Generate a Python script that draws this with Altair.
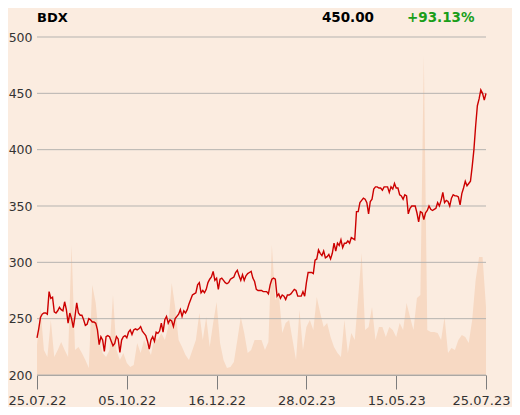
import altair as alt
import pandas as pd

ticker = "BDX"
tick_idx = [0, 52, 104, 156, 208, 260]
tick_labels = ["25.07.22", "05.10.22", "16.12.22", "28.02.23", "15.05.23", "25.07.23"]
y_ticks = [200, 250, 300, 350, 400, 450, 500]

close = [
    233, 241, 251, 254, 255, 255, 254, 274, 268, 269,
    256, 255, 257, 260, 258, 257, 265, 258, 246, 255,
    250, 242, 252, 264, 255, 253, 253, 249, 244, 245,
    250, 249, 247, 247, 246, 240, 227, 234, 231, 221,
    234, 235, 234, 230, 226, 228, 234, 232, 220, 231,
    234, 235, 233, 238, 240, 236, 240, 241, 240, 241,
    243, 239, 237, 235, 230, 223, 231, 234, 230, 238,
    237, 239, 246, 238, 249, 252, 246, 249, 248, 243,
    250, 252, 254, 258, 252, 257, 255, 258, 263, 267,
    271, 272, 273, 280, 282, 273, 275, 273, 276, 282,
    285, 287, 292, 284, 286, 276, 285, 286, 284, 282,
    281, 282, 285, 286, 287, 291, 293, 288, 284, 289,
    284, 288, 290, 291, 292, 286, 283, 276, 275, 275,
    275, 274, 274, 274, 272, 280, 285, 286, 285, 270,
    272, 268, 271, 270, 267, 271, 271, 272, 274, 276,
    275, 270, 270, 270, 274, 270, 282, 291, 291, 291,
    290, 302, 303, 311, 308, 306, 310, 304, 305, 307,
    303, 308, 317, 310, 317, 315, 320, 313, 317, 317,
    319, 317, 322, 321, 320, 345, 345, 353, 355, 357,
    356, 353, 343, 354, 356, 365, 367, 367, 366, 366,
    364, 367, 367, 367, 362, 367, 365, 370, 366, 366,
    360, 359, 356, 360, 359, 343, 348, 350, 350, 350,
    344, 336, 345, 344, 338, 344, 346, 350, 347, 346,
    347, 348, 353, 350, 355, 362, 353, 355, 354, 350,
    357, 360, 359, 359, 358, 351, 361, 366, 372, 368,
    370, 372, 385, 400, 421, 439, 445, 453, 450, 444,
    450,
]

# volume (thousand shares), one reading every second trading day
volume = [
    90, 201, 75, 54, 165, 54, 75, 99, 75, 54,
    390, 75, 84, 66, 45, 21, 270, 216, 105, 66,
    54, 75, 240, 75, 45, 66, 36, 24, 30, 96,
    66, 105, 84, 60, 114, 105, 126, 105, 144, 276,
    204, 105, 84, 60, 45, 75, 105, 186, 105, 174,
    84, 156, 219, 96, 45, 21, 24, 39, 105, 174,
    126, 66, 75, 105, 105, 105, 75, 99, 390, 225,
    246, 126, 156, 165, 105, 45, 195, 75, 144, 165,
    135, 234, 186, 144, 156, 114, 84, 66, 54, 165,
    66, 126, 105, 234, 366, 135, 144, 204, 105, 144,
    144, 114, 144, 135, 114, 156, 135, 216, 174, 135,
    231, 240, 960, 135, 129, 129, 126, 105, 174, 66,
    81, 75, 105, 120, 114, 96, 165, 285, 354, 354,
    204,
]

price_df = pd.DataFrame({"day": list(range(len(close))), "close": close})
vol_df = pd.DataFrame({"day": [2 * k for k in range(len(volume))], "volume": volume})
grid_df = pd.DataFrame({"level": y_ticks})

last = close[-1]
chg = (close[-1] / close[0] - 1) * 100
last_txt = f"{last:.2f}"
chg_txt = f"{'+' if chg >= 0 else ''}{chg:.2f}%"

label_expr = " : ".join(
    f"datum.value == {i} ? '{l}'" for i, l in zip(tick_idx, tick_labels)
) + " : ''"

FONT = "DejaVu Sans"
W, H = 449, 338

xscale = alt.Scale(domain=[0, 260], nice=False, zero=False)
yscale = alt.Scale(domain=[200, 500], nice=False, zero=False)

xaxis = alt.Axis(
    values=tick_idx, labelExpr=label_expr, grid=False,
    domainColor="#a09c98", tickColor="#7d7d7d", tickSize=14,
    labelFontSize=13, labelColor="#333333", labelFont=FONT,
    labelPadding=5, labelFlush=False, labelOverlap=False, title=None,
    labelOffset={"condition": {"test": f"datum.value == {tick_idx[-1]}", "value": -5}, "value": 0},
)

vol = alt.Chart(vol_df).mark_area(color="#f7d9c3", opacity=1).encode(
    x=alt.X("day:Q", scale=xscale, axis=xaxis),
    y=alt.Y("volume:Q", scale=alt.Scale(domain=[0, 1014], nice=False), axis=None),
)

grid = alt.Chart(grid_df).mark_rule(color="#b5b3b0", strokeWidth=1).encode(
    y=alt.Y("level:Q", scale=yscale, axis=None),
)

line = alt.Chart(price_df).mark_line(color="#cc0000", strokeWidth=1.4).encode(
    x=alt.X("day:Q", scale=xscale, axis=xaxis),
    y=alt.Y(
        "close:Q", scale=yscale,
        axis=alt.Axis(
            values=y_ticks, grid=False, domain=False, ticks=False,
            labelFontSize=12.5, labelColor="#333333", labelFont=FONT,
            labelPadding=5, title=None,
        ),
    ),
)

one = pd.DataFrame({"a": [0]})
t_name = alt.Chart(one).mark_text(
    text=ticker, font=FONT, fontSize=13, fontWeight="bold", color="#000000",
    align="left", baseline="middle",
).encode(x=alt.value(0), y=alt.value(-19))
t_last = alt.Chart(one).mark_text(
    text=last_txt, font=FONT, fontSize=13.5, fontWeight="bold", color="#000000",
    align="right", baseline="middle",
).encode(x=alt.value(337), y=alt.value(-19))
t_chg = alt.Chart(one).mark_text(
    text=chg_txt, font=FONT, fontSize=13.5, fontWeight="bold", color="#1a9e1a",
    align="left", baseline="middle",
).encode(x=alt.value(370), y=alt.value(-19))

chart = alt.layer(vol, grid, line, t_name, t_last, t_chg).resolve_scale(
    y="independent"
).properties(
    width=W, height=H,
    autosize=alt.AutoSizeParams(type="none"),
    padding={"left": 29, "top": 29, "right": 26, "bottom": 32},
    background="#fbece0",
).configure_view(stroke=None)

chart.save("out.html", embed_options={"renderer": "svg", "actions": False})
